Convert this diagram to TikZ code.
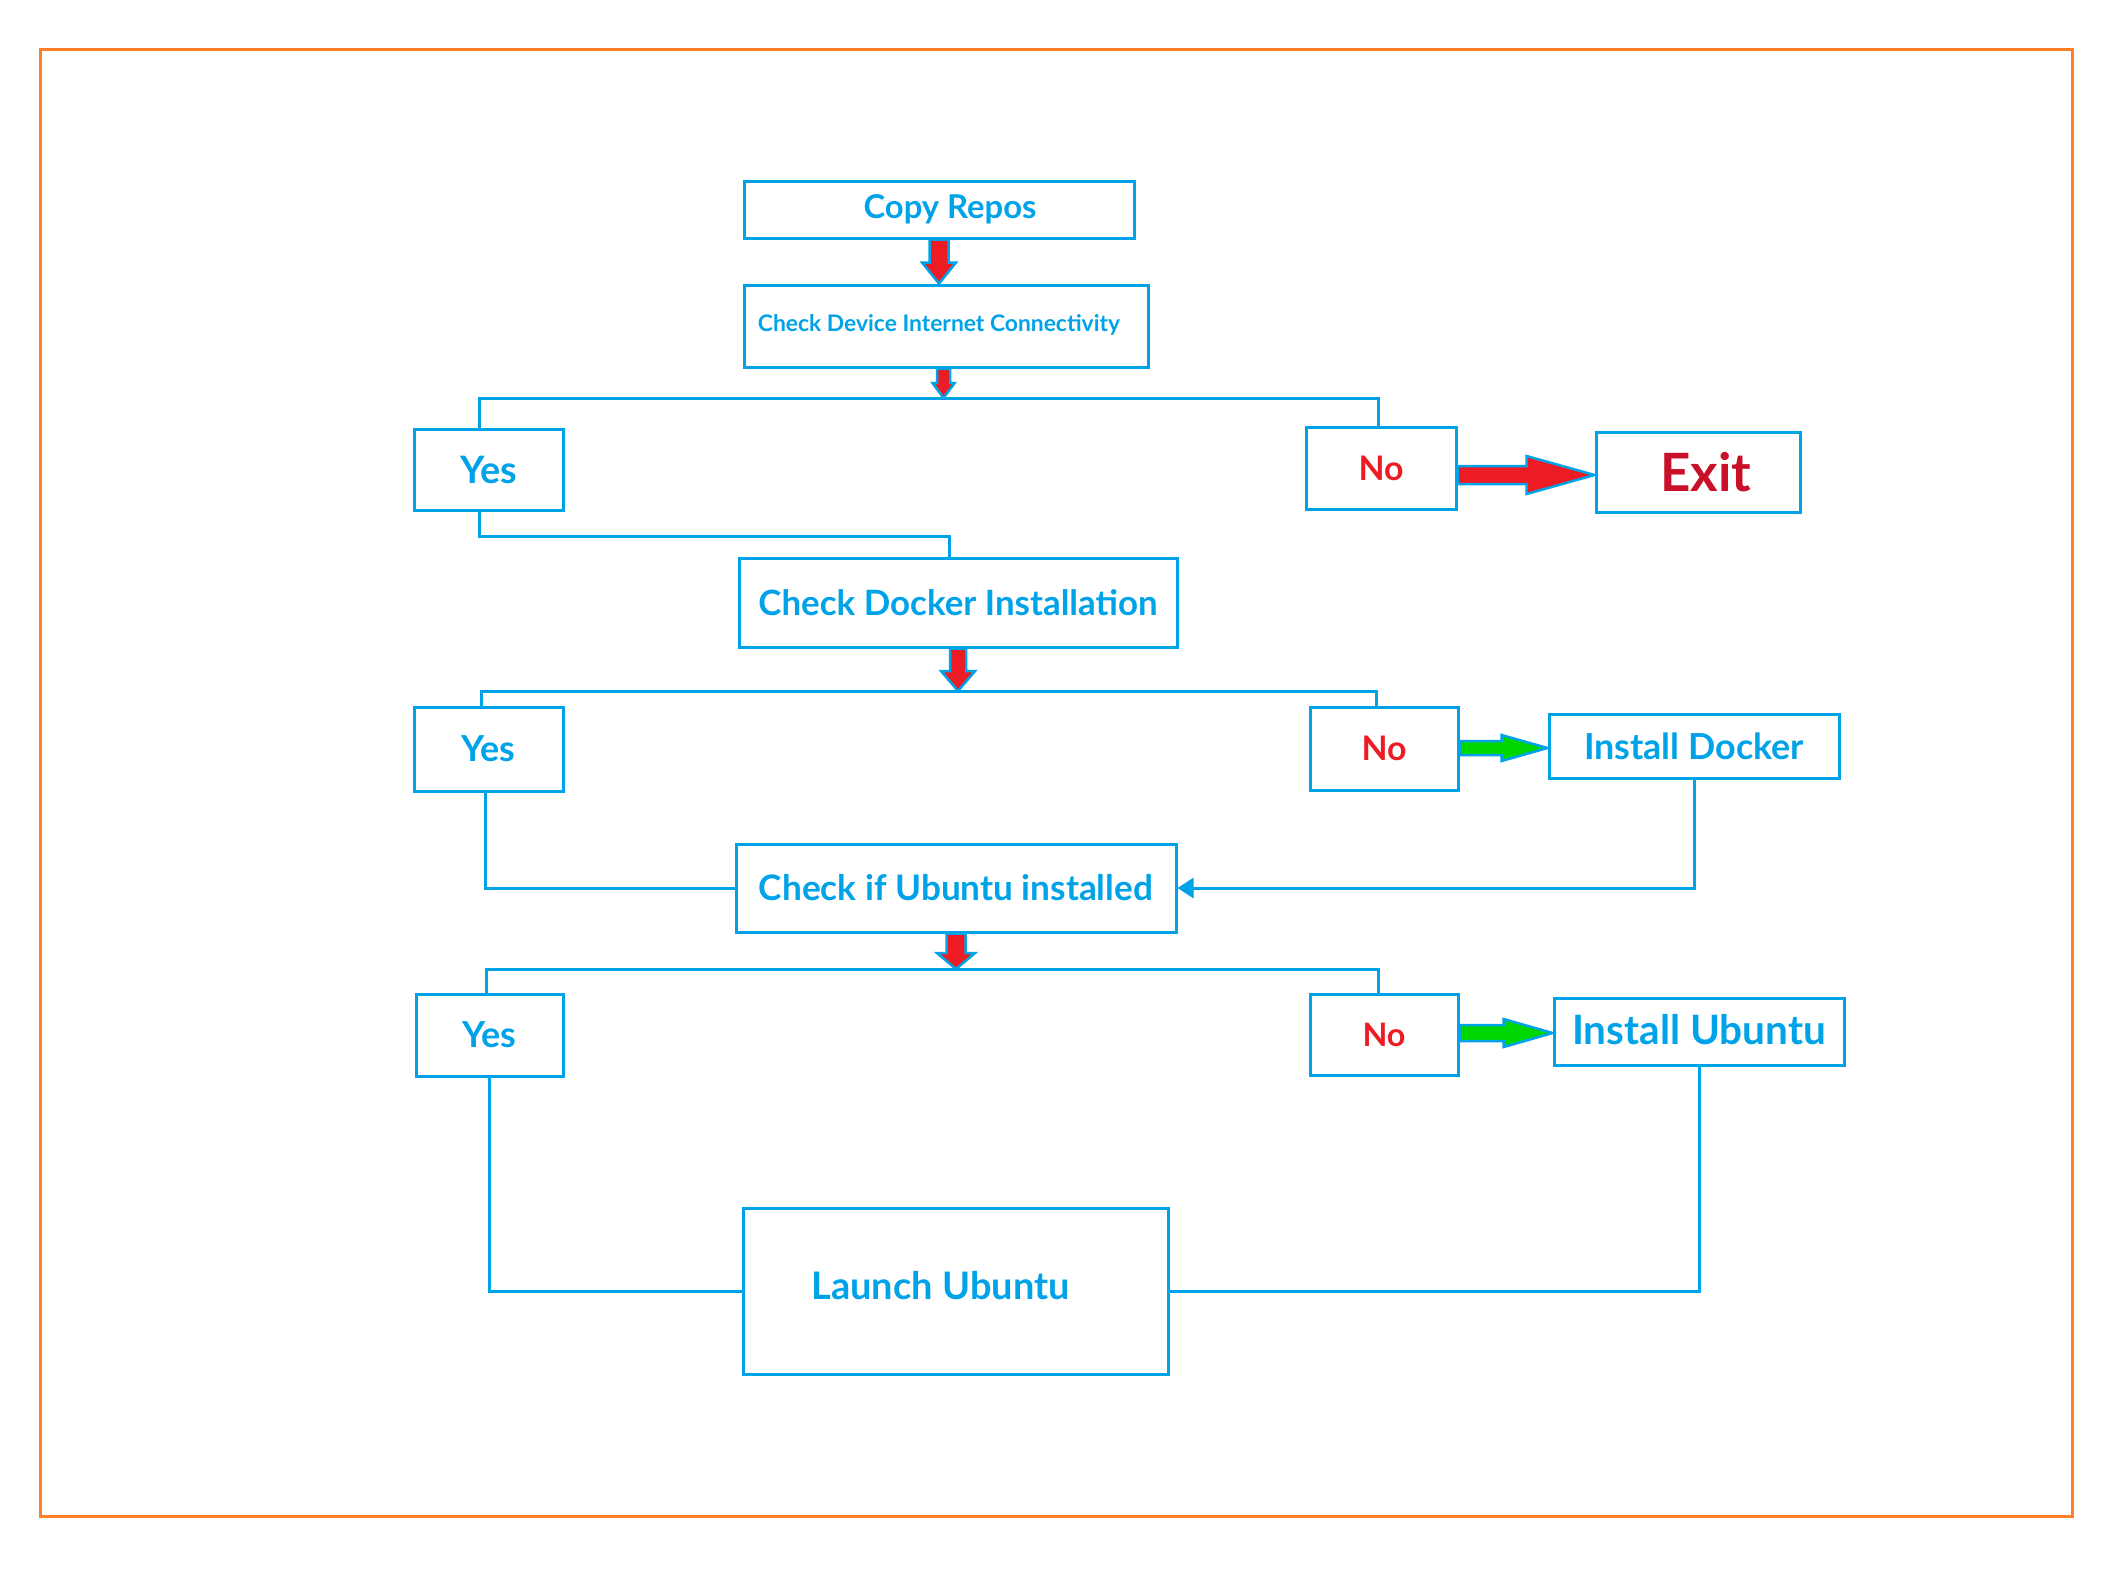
\documentclass[tikz,border=0pt]{standalone}
\usepackage{fontspec}
\setmainfont{Lato}
\usetikzlibrary{arrows.meta,calc}
\definecolor{pblue}{RGB}{0,162,232}
\definecolor{pred}{RGB}{237,28,36}
\definecolor{pdark}{RGB}{200,16,40}
\definecolor{pgreen}{RGB}{0,214,0}
\definecolor{porange}{RGB}{255,127,39}
\newcommand\fitw[2]{\resizebox{#1pt}{!}{#2}}
% fat arrow pointing down: start, end, shaft half width, head half width, head length
\newcommand\fatdown[6]{%
  \draw[#6] let \p1=(#1), \p2=(#2) in
    (\x1-#3pt,\y1) -- (\x1+#3pt,\y1) -- (\x1+#3pt,\y2+#5pt) -- (\x1+#4pt,\y2+#5pt)
    -- (\x1,\y2) -- (\x1-#4pt,\y2+#5pt) -- (\x1-#3pt,\y2+#5pt) -- cycle;}
% fat arrow pointing right
\newcommand\fatright[6]{%
  \draw[#6] let \p1=(#1), \p2=(#2) in
    (\x1,\y1+#3pt) -- (\x2-#5pt,\y1+#3pt) -- (\x2-#5pt,\y1+#4pt) -- (\x2,\y1)
    -- (\x2-#5pt,\y1-#4pt) -- (\x2-#5pt,\y1-#3pt) -- (\x1,\y1-#3pt) -- cycle;}
\begin{document}
\begin{tikzpicture}[x=1pt,y=-1pt,
  box/.style={draw=pblue,line width=3pt,text=pblue,inner sep=0pt,font=\bfseries},
  conn/.style={draw=pblue,line width=3pt,line join=miter},
  redarrow/.style={fill=pred,draw=pblue,line width=2.5pt,line join=miter},
  greenarrow/.style={fill=pgreen,draw=pblue,line width=2.5pt,line join=miter}]
\useasboundingbox (0,0) rectangle (2117,1577);
\draw[draw=porange,line width=3pt] (40,49) rectangle (2072,1516);

% boxes
\node[box,minimum width=390pt,minimum height=57pt] (copy) at (939,209.5) {\hspace*{22pt}\fitw{173}{Copy Repos}};
\node[box,minimum width=404pt,minimum height=82pt] (check) at (946,326) {\raisebox{6pt}{\fitw{362}{Check Device Internet Connectivity}}\hspace*{14pt}};
\node[box,minimum width=149pt,minimum height=81pt] (yes1) at (488.5,469.5) {\fitw{57}{Yes}};
\node[box,minimum width=150pt,minimum height=82pt,text=pred] (no1) at (1381,468) {\fitw{45}{No}};
\node[box,minimum width=204pt,minimum height=80pt,text=pdark] (exit) at (1698,472) {\hspace*{16pt}\fitw{91}{Exit}};
\node[box,minimum width=438pt,minimum height=89pt] (docker) at (958,602.5) {\fitw{399}{Check Docker Installation}};
\node[box,minimum width=149pt,minimum height=84pt] (yes2) at (488.5,749) {\fitw{54}{Yes}};
\node[box,minimum width=148pt,minimum height=83pt,text=pred] (no2) at (1384,748.5) {\fitw{45}{No}};
\node[box,minimum width=290pt,minimum height=64pt] (instd) at (1694,746) {\fitw{220}{Install Docker}};
\node[box,minimum width=440pt,minimum height=88pt] (ubu) at (956,888) {\fitw{394}{Check if Ubuntu installed}};
\node[box,minimum width=147pt,minimum height=82pt] (yes3) at (489.5,1035) {\fitw{54}{Yes}};
\node[box,minimum width=148pt,minimum height=81pt,text=pred] (no3) at (1384,1034.5) {\fitw{43}{No}};
\node[box,minimum width=290pt,minimum height=67pt] (instu) at (1699,1031.5) {\raisebox{4pt}{\fitw{254}{Install Ubuntu}}};
\node[box,minimum width=425pt,minimum height=166pt] (launch) at (955.5,1291) {\raisebox{12pt}{\fitw{258}{Launch Ubuntu}}\hspace*{30pt}};

% bus coordinates
\coordinate (b1L) at (479,398);  \coordinate (b1R) at (1378,398); \coordinate (b1M) at (943.5,398);
\coordinate (j1) at (949,536);
\coordinate (b2L) at (481,691);  \coordinate (b2R) at (1376,691);
\coordinate (c2) at (485,800);
\coordinate (b3L) at (486,969);  \coordinate (b3R) at (1378,969);
\coordinate (e1) at (1500,475);
\coordinate (g1) at (1500,748);
\coordinate (g2) at (1500,1033);

% connectors
\draw[conn] (yes1.north -| b1L) -- (b1L) -- (b1R) -- (no1.north -| b1R);
\draw[conn] (yes1.south -| b1L) |- (j1) -- (docker.north -| j1);
\draw[conn] (yes2.north -| b2L) -- (b2L) -- (b2R) -- (no2.north -| b2R);
\draw[conn] (yes2.south -| c2) |- (ubu.west);
\draw[conn,-{Triangle[length=16pt,width=20pt]}] (instd.south) |- (ubu.east);
\draw[conn] (yes3.north -| b3L) -- (b3L) -- (b3R) -- (no3.north -| b3R);
\draw[conn] (yes3.south) |- (launch.west);
\draw[conn] (instu.south) |- (launch.east);

% fat arrows
\fatdown{copy.south}{check.north}{9.5}{17}{21}{redarrow}
\fatdown{check.south -| b1M}{b1M}{6.5}{11}{15}{redarrow}
\fatdown{docker.south}{docker.south |- b2L}{8}{17}{20}{redarrow}
\fatdown{ubu.south}{ubu.south |- b3L}{9.5}{19}{16}{redarrow}
\fatright{no1.east |- e1}{exit.west |- e1}{9}{19}{68}{redarrow}
\fatright{no2.east |- g1}{instd.west |- g1}{7}{13}{46}{greenarrow}
\fatright{no3.east |- g2}{instu.west |- g2}{8}{14}{49}{greenarrow}
\end{tikzpicture}
\end{document}
